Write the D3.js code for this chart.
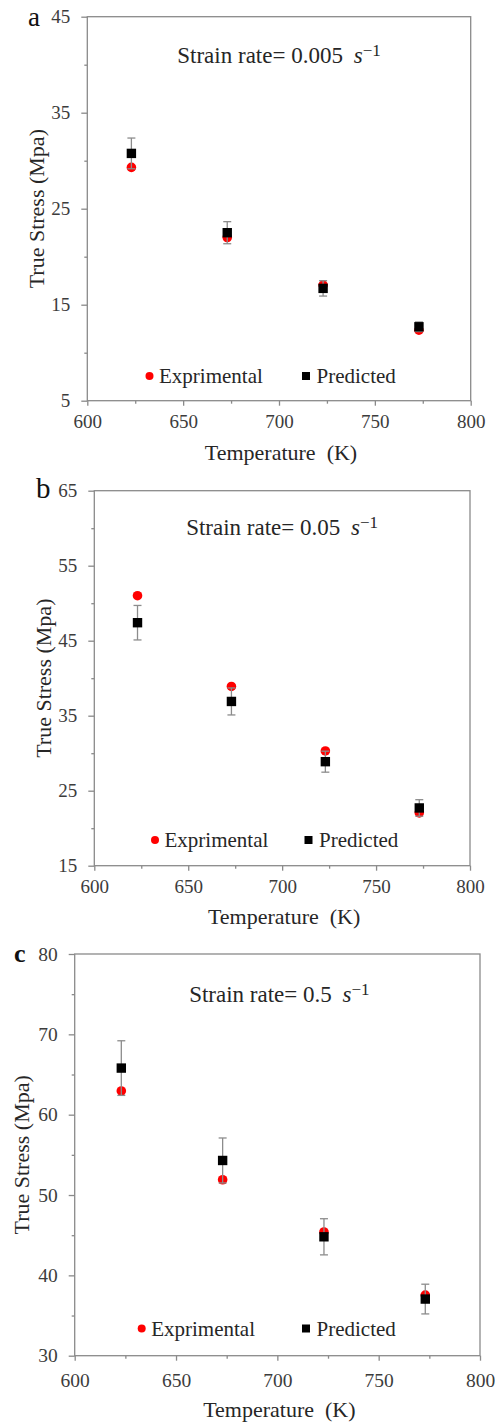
<!DOCTYPE html>
<html>
<head>
<meta charset="utf-8">
<script src="https://cdn.jsdelivr.net/npm/d3@7"></script>
<style>
  html, body { margin: 0; padding: 0; background: #fff; }
  svg { display: block; }
  svg text { font-family: "Liberation Serif", "Times New Roman", serif !important; }
</style>
</head>
<body>
<svg id="chart" width="495" height="1427"></svg>
<script>
// ---------- data ----------
const temperatures = [623, 673, 723, 773];
const xTicks = [600, 650, 700, 750, 800];

// Panel a: strain rate 0.005 s^-1
const expA  = [29.3, 22.0, 17.05, 12.35];
const predA = [30.76, 22.5, 16.7, 12.7];
const errA  = [1.6, 1.15, 0.8, 0.5];
const yTicksA = [5, 15, 25, 35, 45];

// Panel b: strain rate 0.05 s^-1
const expB  = [51.0, 38.9, 30.3, 22.05];
const predB = [47.4, 36.9, 28.87, 22.7];
const errB  = [2.3, 1.8, 1.4, 1.1];
const yTicksB = [15, 25, 35, 45, 55, 65];

// Panel c: strain rate 0.5 s^-1
const expC  = [62.95, 51.9, 45.4, 37.55];
const predC = [65.8, 54.3, 44.8, 37.05];
const errC  = [3.4, 2.8, 2.25, 1.85];
const yTicksC = [30, 40, 50, 60, 70, 80];

const panelLabels = ["a", "b", "c"];
const rateLabels = ["0.005", "0.05", "0.5"];
const seriesNames = ["Exprimental", "Predicted"];
const xTitle = "Temperature  (K)";
const yTitle = "True Stress (Mpa)";

// ---------- drawing ----------
const SERIF = '"Liberation Serif", "Times New Roman", serif';
const svg = d3.select("#chart");
const AXIS = "#8a8a8a", TICKTXT = "#3c3c3c", TXT = "#262626";

function drawPanel(p) {
  const x = d3.scaleLinear().domain([600, 800]).range([p.left, p.right]);
  const y = d3.scaleLinear().domain([p.yTicks[0], p.yTicks[p.yTicks.length - 1]]).range([p.bottom, p.top]);
  const g = svg.append("g").style("font-family", SERIF);

  const yMinor = p.yTicks.slice(0, -1).map((v, i) => (v + p.yTicks[i + 1]) / 2);
  const xMinor = xTicks.slice(0, -1).map((v, i) => (v + xTicks[i + 1]) / 2);

  // y axis
  const yAxis = d3.axisLeft(y).tickValues(p.yTicks).tickSize(6).tickPadding(p.yPad).tickFormat(d3.format("d"));
  const ya = g.append("g").attr("transform", `translate(${p.left},0)`).call(yAxis).attr("font-family", null);
  ya.select(".domain").remove();
  ya.selectAll("line").attr("stroke", AXIS).attr("stroke-width", 1.3);
  ya.selectAll("text").attr("font-size", p.tickFont).attr("fill", TICKTXT).style("font-family", SERIF);
  const ym = g.append("g").attr("transform", `translate(${p.left},0)`)
    .call(d3.axisLeft(y).tickValues(yMinor).tickSize(3).tickFormat(""));
  ym.select(".domain").remove();
  ym.selectAll("line").attr("stroke", AXIS).attr("stroke-width", 1.3);

  // x axis
  const xAxis = d3.axisBottom(x).tickValues(xTicks).tickSize(5).tickPadding(p.xPad).tickFormat(d3.format("d"));
  const xa = g.append("g").attr("transform", `translate(0,${p.bottom})`).call(xAxis).attr("font-family", null);
  xa.select(".domain").remove();
  xa.selectAll("line").attr("stroke", AXIS).attr("stroke-width", 1.3);
  xa.selectAll("text").attr("font-size", p.tickFont).attr("fill", TICKTXT).style("font-family", SERIF);
  const xm = g.append("g").attr("transform", `translate(0,${p.bottom})`)
    .call(d3.axisBottom(x).tickValues(xMinor).tickSize(3).tickFormat(""));
  xm.select(".domain").remove();
  xm.selectAll("line").attr("stroke", AXIS).attr("stroke-width", 1.3);

  // plot box
  g.append("rect")
    .attr("x", p.left).attr("y", p.top)
    .attr("width", p.right - p.left).attr("height", p.bottom - p.top)
    .attr("fill", "none").attr("stroke", AXIS).attr("stroke-width", 1.3);

  const rows = temperatures.map((t, i) => ({ t, e: p.exp[i], pr: p.pred[i], err: p.err[i] }));

  // experimental circles
  g.selectAll(".exp").data(rows).join("circle")
    .attr("cx", d => x(d.t)).attr("cy", d => y(d.e)).attr("r", 4.8).attr("fill", "#ff0000");

  // error bars on predicted
  const eb = g.selectAll(".eb").data(rows).join("g");
  eb.append("line")
    .attr("x1", d => x(d.t)).attr("x2", d => x(d.t))
    .attr("y1", d => y(d.pr - d.err)).attr("y2", d => y(d.pr + d.err))
    .attr("stroke", "#8c8c8c").attr("stroke-width", 1.3);
  [-1, 1].forEach(s => {
    eb.append("line")
      .attr("x1", d => x(d.t) - 4).attr("x2", d => x(d.t) + 4)
      .attr("y1", d => y(d.pr + s * d.err)).attr("y2", d => y(d.pr + s * d.err))
      .attr("stroke", "#8c8c8c").attr("stroke-width", 1.3);
  });

  // predicted squares
  const sq = 9.4;
  g.selectAll(".pred").data(rows).join("rect")
    .attr("x", d => x(d.t) - sq / 2).attr("y", d => y(d.pr) - sq / 2)
    .attr("width", sq).attr("height", sq).attr("fill", "#000");

  // title inside plot
  const title = g.append("text")
    .attr("x", (p.left + p.right) / 2 + p.titleDx).attr("y", p.top + p.titleDy)
    .attr("text-anchor", "middle").attr("font-size", 23).attr("fill", TXT).style("font-family", SERIF);
  title.append("tspan").text(`Strain rate= ${p.rate} `);
  title.append("tspan").attr("dx", 5).attr("font-style", "italic").text("s");
  title.append("tspan").attr("dy", -7).attr("font-size", 17).text("\u22121");

  // legend
  g.append("circle").attr("cx", p.legX1).attr("cy", p.legY).attr("r", 4).attr("fill", "#ff0000");
  g.append("text").attr("x", p.legX1 + 9.5).attr("y", p.legY + 7).attr("font-size", 21).attr("fill", TXT)
    .style("font-family", SERIF).text(seriesNames[0]);
  g.append("rect").attr("x", p.legX2 - 4).attr("y", p.legY - 4).attr("width", 8).attr("height", 8).attr("fill", "#000");
  g.append("text").attr("x", p.legX2 + 10.5).attr("y", p.legY + 7).attr("font-size", 21).attr("fill", TXT)
    .style("font-family", SERIF).text(seriesNames[1]);

  // axis titles
  g.append("text")
    .attr("x", (p.left + p.right) / 2 + 2).attr("y", p.bottom + p.xTitleDy)
    .attr("text-anchor", "middle").attr("font-size", 22).attr("fill", TXT)
    .style("font-family", SERIF).style("white-space", "pre").text(xTitle);
  g.append("text")
    .attr("transform", `translate(${p.yTitleX},${(p.top + p.bottom) / 2}) rotate(-90)`)
    .attr("text-anchor", "middle").attr("font-size", 22).attr("fill", TXT)
    .style("font-family", SERIF).text(yTitle);

  // panel label
  g.append("text").attr("x", p.labX).attr("y", p.labY)
    .attr("font-size", p.labSize).attr("font-weight", p.labWeight).attr("fill", "#111")
    .style("font-family", SERIF).text(p.label);
}

drawPanel({ label: panelLabels[0], rate: rateLabels[0], exp: expA, pred: predA, err: errA, yTicks: yTicksA,
  left: 87.3, right: 470.7, top: 16.7, bottom: 400.7, tickFont: 19, yPad: 11, xPad: 9,
  titleDx: 0, titleDy: 46, legX1: 149.5, legX2: 306, legY: 376, xTitleDy: 59, yTitleX: 43.5,
  labX: 28, labY: 26, labSize: 27, labWeight: "normal" });

drawPanel({ label: panelLabels[1], rate: rateLabels[1], exp: expB, pred: predB, err: errB, yTicks: yTicksB,
  left: 94.3, right: 470, top: 490.7, bottom: 865.7, tickFont: 19, yPad: 11, xPad: 9,
  titleDx: 0, titleDy: 44, legX1: 155, legX2: 308.5, legY: 840, xTitleDy: 58, yTitleX: 51,
  labX: 36, labY: 498, labSize: 29, labWeight: "normal" });

drawPanel({ label: panelLabels[2], rate: rateLabels[2], exp: expC, pred: predC, err: errC, yTicks: yTicksC,
  left: 74.7, right: 480, top: 954, bottom: 1355.7, tickFont: 19.5, yPad: 11, xPad: 12,
  titleDx: 2, titleDy: 48, legX1: 141.7, legX2: 306, legY: 1328.5, xTitleDy: 61, yTitleX: 28.5,
  labX: 14, labY: 962, labSize: 26, labWeight: "bold" });
</script>
</body>
</html>
